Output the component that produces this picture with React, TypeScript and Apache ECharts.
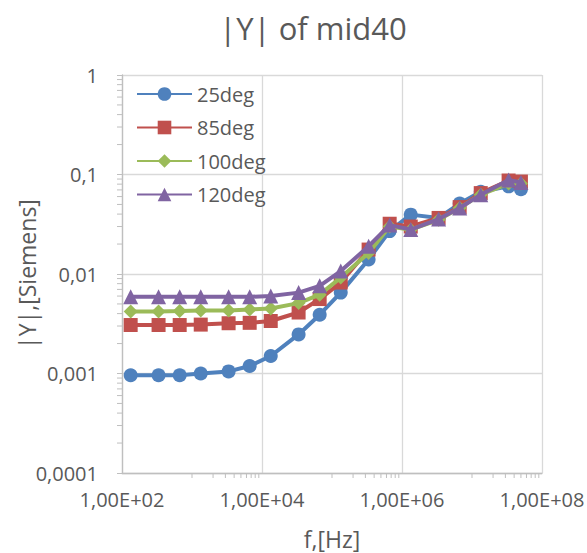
import React, { useEffect, useRef } from "react";
import * as echarts from "echarts";

const freqs = [133, 333, 667, 1333, 3333, 6667, 13333, 33333, 66667, 133333, 333333, 666667, 1333333, 3333333, 6666667, 13333333, 33333333, 50000000];
const seriesNames = ["25deg", "85deg", "100deg", "120deg"];
const y25 = [0.00096, 0.00096, 0.00096, 0.001, 0.00105, 0.00119, 0.0015, 0.00247, 0.0039, 0.0065, 0.014, 0.027, 0.0395, 0.0366, 0.051, 0.067, 0.076, 0.071];
const y85 = [0.00307, 0.00307, 0.00307, 0.0031, 0.0032, 0.00323, 0.00337, 0.0041, 0.0056, 0.0082, 0.0176, 0.032, 0.03, 0.0366, 0.047, 0.065, 0.087, 0.085];
const y100 = [0.0042, 0.0042, 0.00424, 0.0043, 0.0043, 0.0044, 0.0045, 0.0051, 0.0062, 0.0092, 0.0163, 0.03, 0.0279, 0.035, 0.046, 0.0627, 0.081, 0.081];
const y120 = [0.0059, 0.0059, 0.0059, 0.0059, 0.0059, 0.0059, 0.006, 0.0065, 0.0076, 0.0107, 0.019, 0.031, 0.028, 0.0357, 0.046, 0.0627, 0.088, 0.083];
const seriesValues = [y25, y85, y100, y120];
const colors = ["#4F81BD", "#C0504D", "#9BBB59", "#8064A2"];
const symbols = ["circle", "rect", "diamond", "triangle"];
const symbolSizes = [14, 14, 14, 15];

const minorMantissas = [2, 3, 4, 5, 6, 7, 8, 9];
const xMinorDecades = [1e3, 1e5, 1e7];
const yMinorDecades = [1e-4, 1e-3, 1e-2, 1e-1];
const xMinorTicks: number[] = [];
xMinorDecades.forEach((d) => {
  xMinorTicks.push(d);
  minorMantissas.forEach((m) => xMinorTicks.push(m * d));
});
const yMinorTicks: number[] = [];
yMinorDecades.forEach((d) => minorMantissas.forEach((m) => yMinorTicks.push(m * d)));

const X_MIN = 100;
const X_MAX = 1e8;
const Y_MIN = 1e-4;
const Y_MAX = 1;

const FONT = "'Open Sans', 'Noto Sans', sans-serif";
const TEXT = "#595959";
const AXIS = "#BFBFBF";
const GRID = "#D9D9D9";

function expOf(v: number) {
  return Math.round(Math.log10(v));
}
function fmtX(v: number) {
  const e = expOf(v);
  const s = Math.abs(e) < 10 ? "0" + Math.abs(e) : String(Math.abs(e));
  return "1,00E" + (e >= 0 ? "+" : "-") + s;
}
function fmtY(v: number) {
  const e = expOf(v);
  if (e >= 0) return "1" + "0".repeat(e);
  return "0," + "0".repeat(-e - 1) + "1";
}

export default function App() {
  const ref = useRef<HTMLDivElement>(null);
  useEffect(() => {
    if (!ref.current) return;
    const chart = echarts.init(ref.current, null, { renderer: "svg" });
    const lineSeries = seriesNames.map((name, i) => ({
      name,
      type: "line",
      data: freqs.map((f, j) => [f, seriesValues[i][j]]),
      symbol: symbols[i],
      symbolSize: symbolSizes[i],
      showSymbol: true,
      lineStyle: { color: colors[i], width: 4 },
      itemStyle: { color: colors[i] },
      z: 2 + i,
    }));
    const xTickSeries = {
      type: "custom",
      silent: true,
      clip: false,
      z: 1,
      data: xMinorTicks.map((v) => [v, Y_MIN]),
      renderItem: (_p: any, api: any) => {
        const p = api.coord([api.value(0), api.value(1)]);
        return {
          type: "line",
          shape: { x1: p[0], y1: p[1], x2: p[0], y2: p[1] + 5 },
          style: { stroke: AXIS, lineWidth: 1 },
        };
      },
    };
    const yTickSeries = {
      type: "custom",
      silent: true,
      clip: false,
      z: 1,
      data: yMinorTicks.map((v) => [X_MIN, v]),
      renderItem: (_p: any, api: any) => {
        const p = api.coord([api.value(0), api.value(1)]);
        return {
          type: "line",
          shape: { x1: p[0] - 5, y1: p[1], x2: p[0], y2: p[1] },
          style: { stroke: AXIS, lineWidth: 1 },
        };
      },
    };
    chart.setOption({
      animation: false,
      backgroundColor: "#ffffff",
      textStyle: { fontFamily: FONT },
      title: {
        text: "|Y| of mid40",
        left: 308,
        textAlign: "center",
        top: 7,
        textStyle: { fontFamily: FONT, fontSize: 31, fontWeight: "normal", color: TEXT },
      },
      legend: {
        orient: "vertical",
        left: 136,
        top: 82,
        padding: 0,
        itemGap: 9.5,
        itemWidth: 55,
        itemHeight: 17,
        textStyle: { fontFamily: FONT, fontSize: 20, color: TEXT, lineHeight: 24 },
        data: seriesNames,
      },
      grid: { left: 122, right: 45, top: 75, bottom: 80, containLabel: false, outerBoundsMode: "none" },
      xAxis: {
        type: "log",
        logBase: 10,
        min: X_MIN,
        max: X_MAX,
        interval: 2,
        name: "f,[Hz]",
        nameLocation: "middle",
        nameGap: 54,
        nameMoveOverlap: false,
        nameTextStyle: { fontFamily: FONT, fontSize: 23, color: TEXT },
        axisLine: { show: true, lineStyle: { color: AXIS, width: 1.3 } },
        axisTick: { show: false },
        axisLabel: { formatter: fmtX, fontFamily: FONT, fontSize: 20, color: TEXT, margin: 16 },
        splitLine: { show: true, lineStyle: { color: GRID, width: 1.3 } },
      },
      yAxis: {
        type: "log",
        logBase: 10,
        min: Y_MIN,
        max: Y_MAX,
        interval: 1,
        name: "|Y|,[Siemens]",
        nameLocation: "middle",
        nameGap: 84,
        nameMoveOverlap: false,
        nameTextStyle: { fontFamily: FONT, fontSize: 23, color: TEXT },
        axisLine: { show: true, lineStyle: { color: AXIS, width: 1.3 } },
        axisTick: { show: true, length: 5, lineStyle: { color: AXIS } },
        axisLabel: { formatter: fmtY, fontFamily: FONT, fontSize: 20, color: TEXT, margin: 24 },
        splitLine: { show: true, lineStyle: { color: GRID, width: 1.3 } },
      },
      series: [xTickSeries, yTickSeries, ...lineSeries],
    });
    return () => chart.dispose();
  }, []);
  return (
    <div
      ref={ref}
      style={{ position: "absolute", left: 0, top: 0, width: 587, height: 553, background: "#fff" }}
    />
  );
}
